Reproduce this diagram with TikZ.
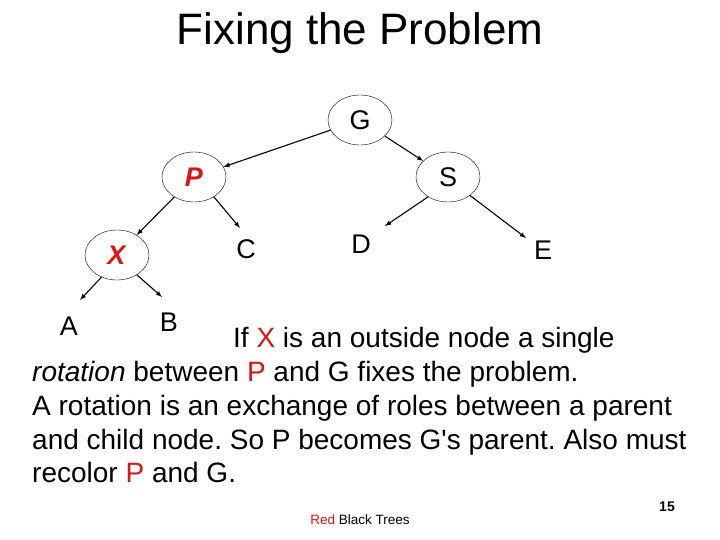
\documentclass[tikz,border=0pt]{standalone}
\usepackage{fontspec}
\setmainfont{Liberation Sans}
\usepackage{textcomp}
\frenchspacing
\definecolor{rd}{RGB}{220,20,20}
\begin{document}
\begin{tikzpicture}[x=1pt,y=-1pt,
  circ/.style={draw,ellipse,minimum width=64pt,minimum height=50pt,inner sep=0pt,font=\fontsize{27}{30}\selectfont},
  leaf/.style={font=\fontsize{27}{30}\selectfont,inner sep=0pt},
  arr/.style={-latex,line width=1.1pt},
  txt/.style={anchor=base west,inner sep=0pt,font=\fontsize{28}{32}\selectfont}]
\usetikzlibrary{shapes.geometric}
\useasboundingbox (0,0) rectangle (720,540);
\node[font=\fontsize{44}{48}\selectfont] (title) at (360,33) {Fixing the Problem};
\node[circ] (G) at (360,120) {G};
\node[circ] (P) at (194,177) {\textcolor{rd}{\textbf{\textit{P}}}};
\node[circ] (S) at (448,177) {S};
\node[circ] (X) at (117,255) {\textcolor{rd}{\textbf{\textit{X}}}};
\node[leaf] (C) at (246,249) {C};
\node[leaf] (D) at (361,244) {D};
\node[leaf] (E) at (543,250) {E};
\node[leaf] (A) at (69,326) {A};
\node[leaf] (B) at (169,322) {B};
\coordinate (c1) at (240,228); \coordinate (d1) at (385,226);
\coordinate (e1) at (526,238); \coordinate (a1) at (80,300);
\coordinate (b1) at (162,297);
\draw[arr] (G) -- (P);
\draw[arr] (G) -- (S);
\draw[arr] (P) -- (X);
\draw[arr] (P.-45) -- (c1);
\draw[arr] (S.-135) -- (d1);
\draw[arr] (S.-40) -- (e1);
\draw[arr] (X.-125) -- (a1);
\draw[arr] (X.-45) -- (b1);
\node[txt] (t1) at (233,347) {If \textcolor{rd}{X} is an outside node a single};
\node[txt] (t2) at (32,381) {\textit{rotation} between \textcolor{rd}{P} and G fixes the problem.};
\node[txt] (t3) at (32,415) {A rotation is an exchange of roles between a parent};
\node[txt] (t4) at (32,449) {and child node. So P becomes G\textquotesingle s parent. Also must};
\node[txt] (t5) at (32,482) {recolor \textcolor{rd}{P} and G.};
\node[font=\fontsize{13.5}{15}\selectfont] (ft) at (360,520) {\textcolor{rd}{Red} Black Trees};
\node[font=\fontsize{14}{16}\selectfont\bfseries] (pg) at (667,507) {15};
\end{tikzpicture}
\end{document}
